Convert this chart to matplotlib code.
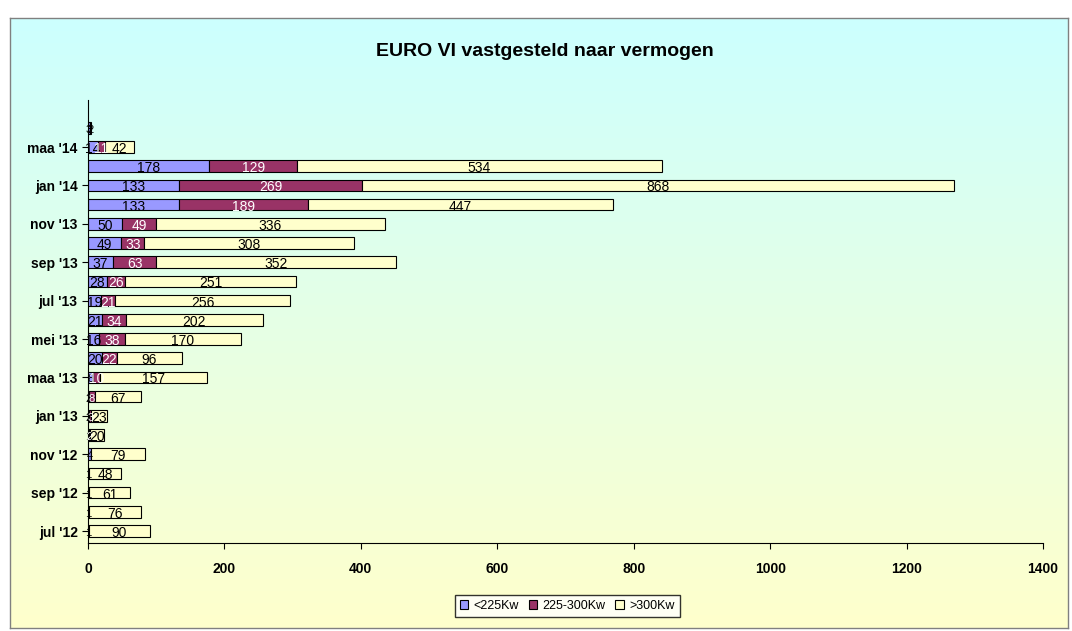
import numpy as np
from matplotlib import pyplot as plt

# data, bottom (jul '12) to top (apr '14)
maanden = ["jul '12", "aug '12", "sep '12", "okt '12", "nov '12", "dec '12",
           "jan '13", "feb '13", "maa '13", "apr '13", "mei '13", "jun '13",
           "jul '13", "aug '13", "sep '13", "okt '13", "nov '13", "dec '13",
           "jan '14", "feb '14", "maa '14", "apr '14"]
klein = [1, 1, 1, 1, 4, 1, 2, 2, 8, 20, 16, 21, 19, 28, 37, 49, 50, 133, 133, 178, 14, 3]
midden = [0, 0, 0, 0, 0, 2, 3, 8, 10, 22, 38, 34, 21, 26, 63, 33, 49, 189, 269, 129, 11, 0]
groot = [90, 76, 61, 48, 79, 20, 23, 67, 157, 96, 170, 202, 256, 251, 352, 308, 336, 447, 868, 534, 42, 2]
series_namen = ["<225Kw", "225-300Kw", ">300Kw"]
kleuren = ["#9999FF", "#993366", "#FFFFCC"]
label_kleuren = ["black", "white", "black"]

plt.rcParams['font.family'] = ['Liberation Sans', 'DejaVu Sans']

fig = plt.figure(figsize=(10.72, 6.31), dpi=100, facecolor="white")

# gradient background (cyan top -> light yellow bottom)
bg = fig.add_axes([10/1072, 3/631, 1058/1072, 610/631], zorder=0)
grad = np.linspace(0, 1, 256).reshape(-1, 1)
top = np.array([0.80, 1.0, 1.0])
bot = np.array([1.0, 1.0, 0.80])
img = top[None, None, :] * (1 - grad[:, :, None]) + bot[None, None, :] * grad[:, :, None]
bg.imshow(img, aspect="auto", extent=[0, 1, 0, 1])
bg.set_xticks([])
bg.set_yticks([])
for s in bg.spines.values():
    s.set_color("#808080")
    s.set_linewidth(1)

ax = fig.add_axes([88/1072, 1 - 543/631, 955/1072, 443/631], zorder=1)
ax.patch.set_alpha(0)

y = np.arange(len(maanden))
data = [klein, midden, groot]
links = np.zeros(len(maanden))
for vals, naam, kleur, lk in zip(data, series_namen, kleuren, label_kleuren):
    vals = np.array(vals)
    ax.barh(y, vals, left=links, height=0.6, color=kleur, edgecolor="black",
            linewidth=0.8, label=naam)
    for i, v in enumerate(vals):
        if v > 0:
            # tiny segments get a smaller label, like the original they still overlap a bit
            fs = 10 if v >= 10 else 8
            ax.text(links[i] + v / 2, y[i] - 0.1, str(v), ha="center", va="center",
                    fontsize=fs, color=lk)
    links = links + vals

ax.set_xlim(0, 1400)
ax.set_ylim(-0.625, 22.45)
ax.set_xticks(range(0, 1401, 200))
ax.set_yticks(y[::2])
ax.set_yticklabels(maanden[::2], fontsize=10, fontweight="bold")
for lbl in ax.get_xticklabels():
    lbl.set_fontweight("bold")
    lbl.set_fontsize(10)
ax.tick_params(axis="x", length=4, pad=10)
ax.tick_params(axis="y", length=4)
ax.spines["top"].set_visible(False)
ax.spines["right"].set_visible(False)

fig.text(545/1072, 1 - 52/631, "EURO VI vastgesteld naar vermogen", ha="center",
         va="center", fontsize=14, fontweight="bold")

fig.legend(loc="center", bbox_to_anchor=(567/1072, 1 - 606/631), ncol=3,
           fontsize=9, frameon=True, fancybox=False, edgecolor="black",
           handlelength=0.7, handleheight=0.7, handletextpad=0.4, columnspacing=0.8)

fig.savefig("out.png", dpi=100)
